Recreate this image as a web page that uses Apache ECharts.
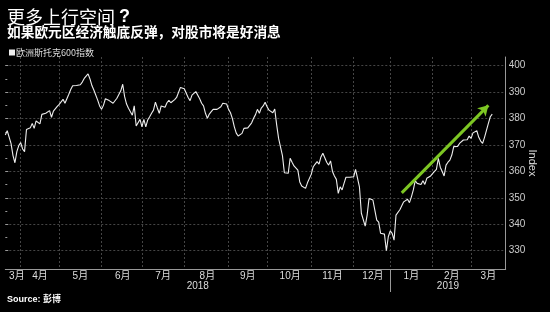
<!DOCTYPE html>
<html>
<head>
<meta charset="utf-8">
<script src="https://cdn.jsdelivr.net/npm/echarts@6/dist/echarts.min.js"></script>
<style>
html,body{margin:0;padding:0;background:#000;}
#c{width:550px;height:312px;}
</style>
</head>
<body>
<div id="c"></div>
<script>
// ---- Data (STOXX Europe 600, trading days) ----
const monthNames = ['3月','4月','5月','6月','7月','8月','9月','10月','11月','12月','1月','2月','3月'];
const monthYears = [2018,2018,2018,2018,2018,2018,2018,2018,2018,2018,2019,2019,2019];
const yearLabels = ['2018','2019'];

const mar2018 = [373.8,375.4,375.0,370.5,366.0,363.3,367.5,369.8];
const apr2018 = [370.9,368.5,367.5,375.9,375.2,376.5,378.2,376.3,379.1,378.5,378.0,381.6,381.8,382.0,382.6,383.0,380.5,382.8,383.5,384.6];
const may2018 = [385.4,385.1,387.3,385.8,387.5,389.2,391.0,392.4,392.3,392.5,392.4,392.8,393.8,395.2,394.8,396.9,395.0,392.5,390.8,390.5,387.0,384.8];
const jun2018 = [383.5,385.0,387.5,387.5,386.8,386.5,385.8,386.5,387.7,387.3,390.5,393.0,388.3,385.5,383.9,383.2,381.3,384.8,377.2,377.2,379.7];
const jul2018 = [376.9,379.7,376.9,379.5,380.7,382.0,383.2,386.2,384.0,382.0,384.8,384.5,384.3,386.0,386.9,386.0,385.5,387.2,388.0,387.3,391.8,391.1];
const aug2018 = [391.3,391.0,388.0,386.8,388.9,388.3,390.2,389.8,387.5,385.8,384.8,382.0,380.1,381.7,382.6,383.5,384.1,383.5,383.8,384.5,385.8,386.4,385.5];
const sep2018 = [383.5,382.2,380.0,376.9,374.5,373.4,374.0,374.4,376.3,375.7,376.5,376.9,378.4,380.1,381.5,383.5,382.0,384.0,384.8,386.2];
const oct2018 = [384.5,383.2,383.9,382.2,383.6,377.6,372.5,372.9,366.0,359.5,359.3,359.3,365.0,363.5,362.1,361.5,360.5,356.0,354.5,354.9,353.6,355.7,355.7];
const nov2018 = [359.0,361.8,362.8,363.7,362.8,365.5,366.9,366.2,363.5,362.4,364.0,360.0,358.3,357.0,351.7,354.2,353.0,355.5,357.8,357.5,357.8,357.6];
const dec2018 = [358.0,360.8,357.5,354.2,344.2,344.8,339.3,343.5,349.8,349.5,349.2,345.4,341.6,340.8,336.6,336.5,336.3,330.0,335.3];
const jan2019 = [337.5,336.6,334.0,343.5,344.0,345.5,347.0,348.5,349.0,349.5,348.2,350.4,353.0,356.5,355.5,355.2,355.1,356.5,355.1,357.4,357.8,358.3];
const feb2019 = [359.0,360.0,360.8,365.0,361.6,360.0,358.3,362.4,363.5,364.3,366.2,369.4,368.7,369.5,370.6,370.4,371.9,371.9,372.0,373.4];
const mar2019 = [372.5,374.6,375.0,375.4,372.9,371.5,370.6,372.9,373.1,378.2,380.7,381.7];

const monthValues = [mar2018,apr2018,may2018,jun2018,jul2018,aug2018,sep2018,oct2018,nov2018,dec2018,jan2019,feb2019,mar2019];
const padDays = 7;               // empty trading days to the right of the last point
const yTicks = [330, 400, 10];   // labelled range and step of the index axis
const arrowFrom = [206, 351.9];  // [trading-day index, index level]
const arrowTo   = [251, 385.0];

// ---- Build category list ----
const categories = [], values = [], monthStart = [];
monthValues.forEach((arr, m) => {
  monthStart.push(categories.length);
  arr.forEach((v, k) => { categories.push(monthYears[m] + '-' + (m + 1) + '-' + (k + 1)); values.push(v); });
});
for (let i = 0; i < padDays; i++) { categories.push('pad' + i); values.push(null); }
const lastIdx = categories.length - 1;
const labelAt = {};
const splitAt = new Set();
monthStart.forEach((s, m) => {
  const e = m + 1 < monthStart.length ? monthStart[m + 1] : lastIdx;
  const mid = m === 0 ? Math.round(s + (e - s) * 0.75) : Math.round((s + e) / 2);
  labelAt[mid] = monthNames[m];
  if (m > 0) splitAt.add(s);
});
const yearStart = monthStart[monthYears.indexOf(2019)];
const yearLabelAt = {};
yearLabelAt[Math.round(yearStart / 2)] = yearLabels[0];
yearLabelAt[Math.round((yearStart + lastIdx) / 2)] = yearLabels[1];

const FONT = '"Liberation Sans", "Noto Sans CJK SC", sans-serif';
const CJK = '"Noto Sans CJK SC", sans-serif';
const gridL = 5.3, gridR = 44.3;
const GRIDC = '#454545';

const chart = echarts.init(document.getElementById('c'), null, {renderer: 'canvas'});
chart.setOption({
  backgroundColor: '#000',
  animation: false,
  textStyle: {fontFamily: FONT},
  title: [
    {
      text: '更多上行空间 {q|?}',
      subtext: '如果欧元区经济触底反弹，对股市将是好消息',
      left: 2, top: 2, itemGap: -3,
      textStyle: {
        color: '#fff', fontSize: 18, fontWeight: 'normal', lineHeight: 20, fontFamily: CJK,
        rich: {q: {color: '#fff', fontSize: 18, fontWeight: 'bold', fontFamily: FONT, lineHeight: 20}}
      },
      subtextStyle: {color: '#fff', fontSize: 13.7, fontWeight: 'bold', lineHeight: 16, fontFamily: CJK}
    },
    {
      text: 'Source: 彭博',
      left: 2, top: 290,
      textStyle: {color: '#fff', fontSize: 9, fontWeight: 'bold', fontFamily: FONT}
    }
  ],
  legend: {
    left: 4, top: 43, padding: [5, 5, 5, 5],
    icon: 'rect', itemWidth: 6, itemHeight: 6,
    textStyle: {color: '#ddd', fontSize: 9, fontFamily: CJK, padding: [0, 0, 0, -4]},
    data: ['欧洲斯托克600指数']
  },
  grid: [
    {left: gridL, right: gridR, top: 57, bottom: 43},
    {left: gridL, right: gridR, top: 65.7, bottom: 61.3}
  ],
  xAxis: [
    {
      gridIndex: 0, type: 'category', data: categories, boundaryGap: false,
      axisLine: {show: true, lineStyle: {color: '#999', width: 1}},
      axisTick: {show: false},
      axisLabel: {
        color: '#ddd', fontSize: 10, margin: 2,
        interval: (i) => labelAt[i] !== undefined,
        formatter: (v, i) => labelAt[i] || ''
      },
      splitLine: {show: true, interval: (i) => splitAt.has(i), lineStyle: {color: GRIDC, type: [2, 2]}}
    },
    {
      gridIndex: 0, type: 'category', data: categories, boundaryGap: false, position: 'bottom', offset: 0,
      axisLine: {show: false},
      axisTick: {show: true, length: 23, interval: (i) => i === yearStart, lineStyle: {color: '#999'}},
      axisLabel: {
        color: '#ddd', fontSize: 10, margin: 12,
        interval: (i) => yearLabelAt[i] !== undefined,
        formatter: (v, i) => yearLabelAt[i] || ''
      },
      splitLine: {show: false}
    },
    {gridIndex: 1, type: 'value', show: false, min: 0, max: 1}
  ],
  yAxis: [
    {
      gridIndex: 0, type: 'value', position: 'right', min: 323.1, max: 403.3,
      name: 'Index', nameLocation: 'middle', nameRotate: -90, nameGap: 21,
      nameTextStyle: {color: '#ddd', fontSize: 11},
      axisLine: {show: true, lineStyle: {color: '#999'}},
      axisTick: {show: false}, axisLabel: {show: false}, splitLine: {show: false}
    },
    {
      gridIndex: 1, type: 'value', position: 'right', min: yTicks[0], max: yTicks[1], interval: yTicks[2],
      axisLine: {show: false},
      axisTick: {show: true, length: 3, lineStyle: {color: '#999'}},
      minorTick: {show: true, splitNumber: 2, length: 2, lineStyle: {color: '#999'}},
      axisLabel: {color: '#ccc', fontSize: 10, margin: 3},
      splitLine: {show: true, lineStyle: {color: GRIDC, type: [2, 2]}}
    }
  ],
  series: [{
    name: '欧洲斯托克600指数',
    type: 'line',
    xAxisIndex: 0, yAxisIndex: 0,
    data: values,
    showSymbol: false, symbol: 'none',
    itemStyle: {color: '#eee'},
    lineStyle: {color: '#eee', width: 1.1},
    z: 3,
    markLine: {
      silent: true,
      symbol: ['none', 'arrow'], symbolSize: [9, 10],
      label: {show: false},
      lineStyle: {color: '#7dc623', width: 3, type: 'solid'},
      emphasis: {disabled: true},
      data: [[
        {coord: [categories[arrowFrom[0]], arrowFrom[1]]},
        {coord: [categories[arrowTo[0]], arrowTo[1]]}
      ]]
    }
  }]
});
</script>
</body>
</html>
